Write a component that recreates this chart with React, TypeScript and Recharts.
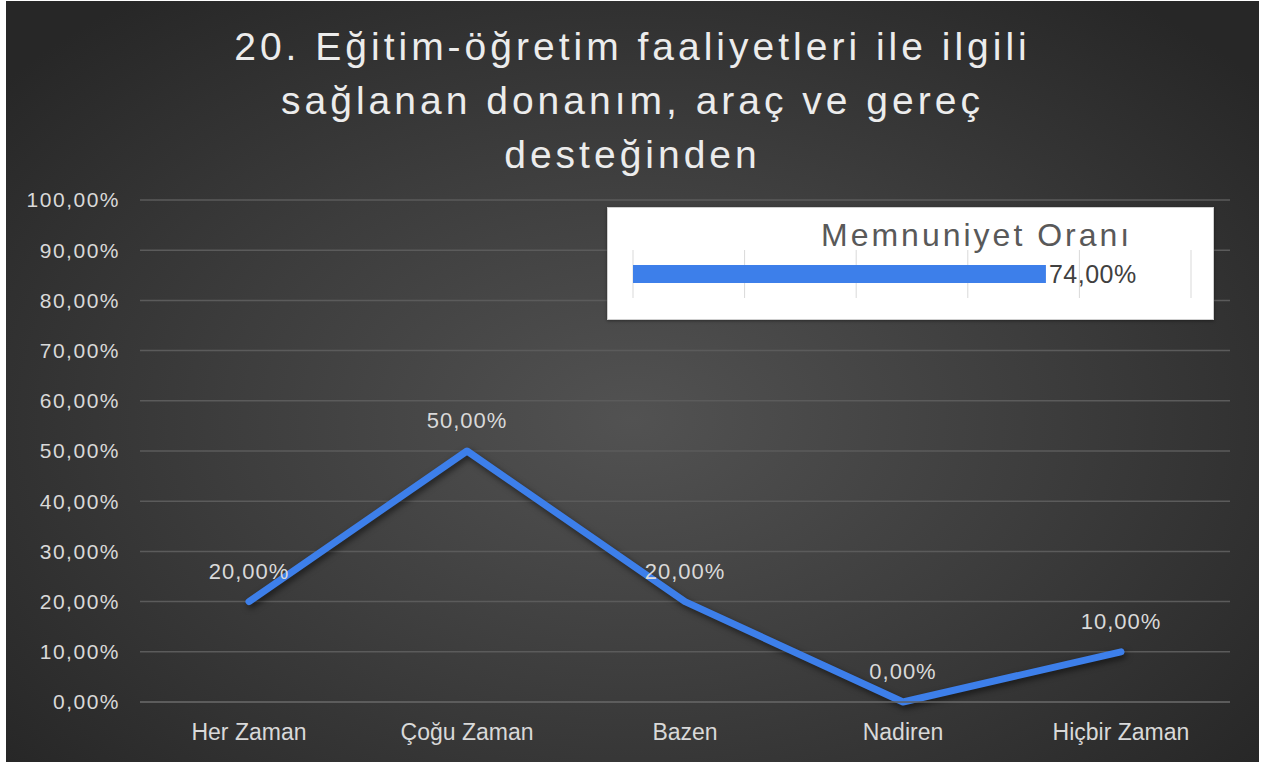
import {
  LineChart,
  Line,
  XAxis,
  YAxis,
  CartesianGrid,
  LabelList,
  BarChart,
  Bar,
} from "recharts";

const categories = ["Her Zaman", "Çoğu Zaman", "Bazen", "Nadiren", "Hiçbir Zaman"];
const oranlar = [0.2, 0.5, 0.2, 0.0, 0.1];
const yTicks = [0, 0.1, 0.2, 0.3, 0.4, 0.5, 0.6, 0.7, 0.8, 0.9, 1];

const memnuniyetLabel = ["Memnuniyet Oranı"];
const memnuniyetValue = [0.74];
const insetTicks = [0, 0.2, 0.4, 0.6, 0.8, 1];

const title = [
  "20. Eğitim-öğretim faaliyetleri ile ilgili",
  "sağlanan donanım, araç ve gereç",
  "desteğinden",
];

const FONT = "'Liberation Sans', Arial, sans-serif";
const BLUE = "#3d7fea";
const TEXT = "#d9d9d9";

const pct = (v: number) => (v * 100).toFixed(2).replace(".", ",") + "%";

const lineData = categories.map((name, i) => ({ name, value: oranlar[i] }));
const insetData = memnuniyetLabel.map((name, i) => ({ name, value: memnuniyetValue[i] }));

export default function App() {
  return (
    <div
      style={{
        position: "absolute",
        left: 6,
        top: 1,
        width: 1253,
        height: 761,
        overflow: "hidden",
        fontFamily: FONT,
        background:
          "radial-gradient(ellipse 65% 70% at 50% 55%, #525252 0%, #3d3d3d 50%, #272727 100%)",
      }}
    >
      <style>{`.main-line .recharts-line-curve { filter: drop-shadow(2px 3px 3px rgba(0,0,0,0.55)); }`}</style>

      <div
        style={{
          position: "absolute",
          left: 0,
          top: 19,
          width: 1253,
          textAlign: "center",
          color: "#ececec",
          fontSize: 39,
          letterSpacing: 4,
          lineHeight: "54px",
        }}
      >
        {title.map((t) => (
          <div key={t}>{t}</div>
        ))}
      </div>

      <div style={{ position: "absolute", left: 0, top: 0 }}>
        <LineChart
          width={1253}
          height={761}
          data={lineData}
          margin={{ top: 199, right: 29, bottom: 0, left: 0 }}
        >
          <CartesianGrid vertical={false} stroke="#5b5b5b" strokeWidth={1.5} />
          <XAxis
            dataKey="name"
            height={60}
            interval={0}
            padding={{ left: 109, right: 109 }}
            axisLine={{ stroke: "#606060", strokeWidth: 1.5 }}
            tickLine={false}
            tickSize={0}
            tickMargin={22}
            tick={{ fill: TEXT, fontSize: 23, fontFamily: FONT }}
          />
          <YAxis
            width={134}
            domain={[0, 1]}
            ticks={yTicks}
            interval={0}
            axisLine={false}
            tickLine={false}
            tickSize={0}
            tickMargin={20}
            tickFormatter={pct}
            tick={{ fill: TEXT, fontSize: 21, fontFamily: FONT, letterSpacing: 1.5 }}
          />
          <Line
            className="main-line"
            type="linear"
            dataKey="value"
            stroke={BLUE}
            strokeWidth={7}
            strokeLinecap="round"
            strokeLinejoin="round"
            dot={false}
            activeDot={false}
            isAnimationActive={false}
          >
            <LabelList
              dataKey="value"
              position="top"
              offset={23}
              formatter={(v: any) => pct(Number(v))}
              style={{ fill: TEXT, fontSize: 22, fontFamily: FONT, letterSpacing: 1 }}
            />
          </Line>
        </LineChart>
      </div>

      <div
        style={{
          position: "absolute",
          left: 601,
          top: 206,
          width: 607,
          height: 113,
          background: "#ffffff",
          border: "1px solid #cfcfcf",
          boxSizing: "border-box",
          boxShadow: "0 1px 3px rgba(0,0,0,0.4)",
        }}
      >
        <div
          style={{
            position: "absolute",
            left: 213,
            top: 9,
            color: "#595959",
            fontSize: 32,
            letterSpacing: 3,
            whiteSpace: "nowrap",
          }}
        >
          {memnuniyetLabel[0]}
        </div>
        <div style={{ position: "absolute", left: -1, top: -1 }}>
          <BarChart
            width={607}
            height={113}
            layout="vertical"
            data={insetData}
            margin={{ top: 43, right: 23, bottom: 21, left: 26 }}
          >
            <CartesianGrid horizontal={false} stroke="#d9d9d9" />
            <XAxis
              type="number"
              domain={[0, 1]}
              ticks={insetTicks}
              interval={0}
              height={1}
              tick={{ fill: "transparent", fontSize: 1 }}
              axisLine={false}
              tickLine={false}
            />
            <YAxis type="category" dataKey="name" hide />
            <Bar dataKey="value" fill={BLUE} barSize={18} isAnimationActive={false}>
              <LabelList
                dataKey="value"
                position="right"
                offset={3}
                formatter={(v: any) => pct(Number(v))}
                style={{ fill: "#404040", fontSize: 25, fontFamily: FONT, letterSpacing: 0.5 }}
              />
            </Bar>
          </BarChart>
        </div>
      </div>
    </div>
  );
}
